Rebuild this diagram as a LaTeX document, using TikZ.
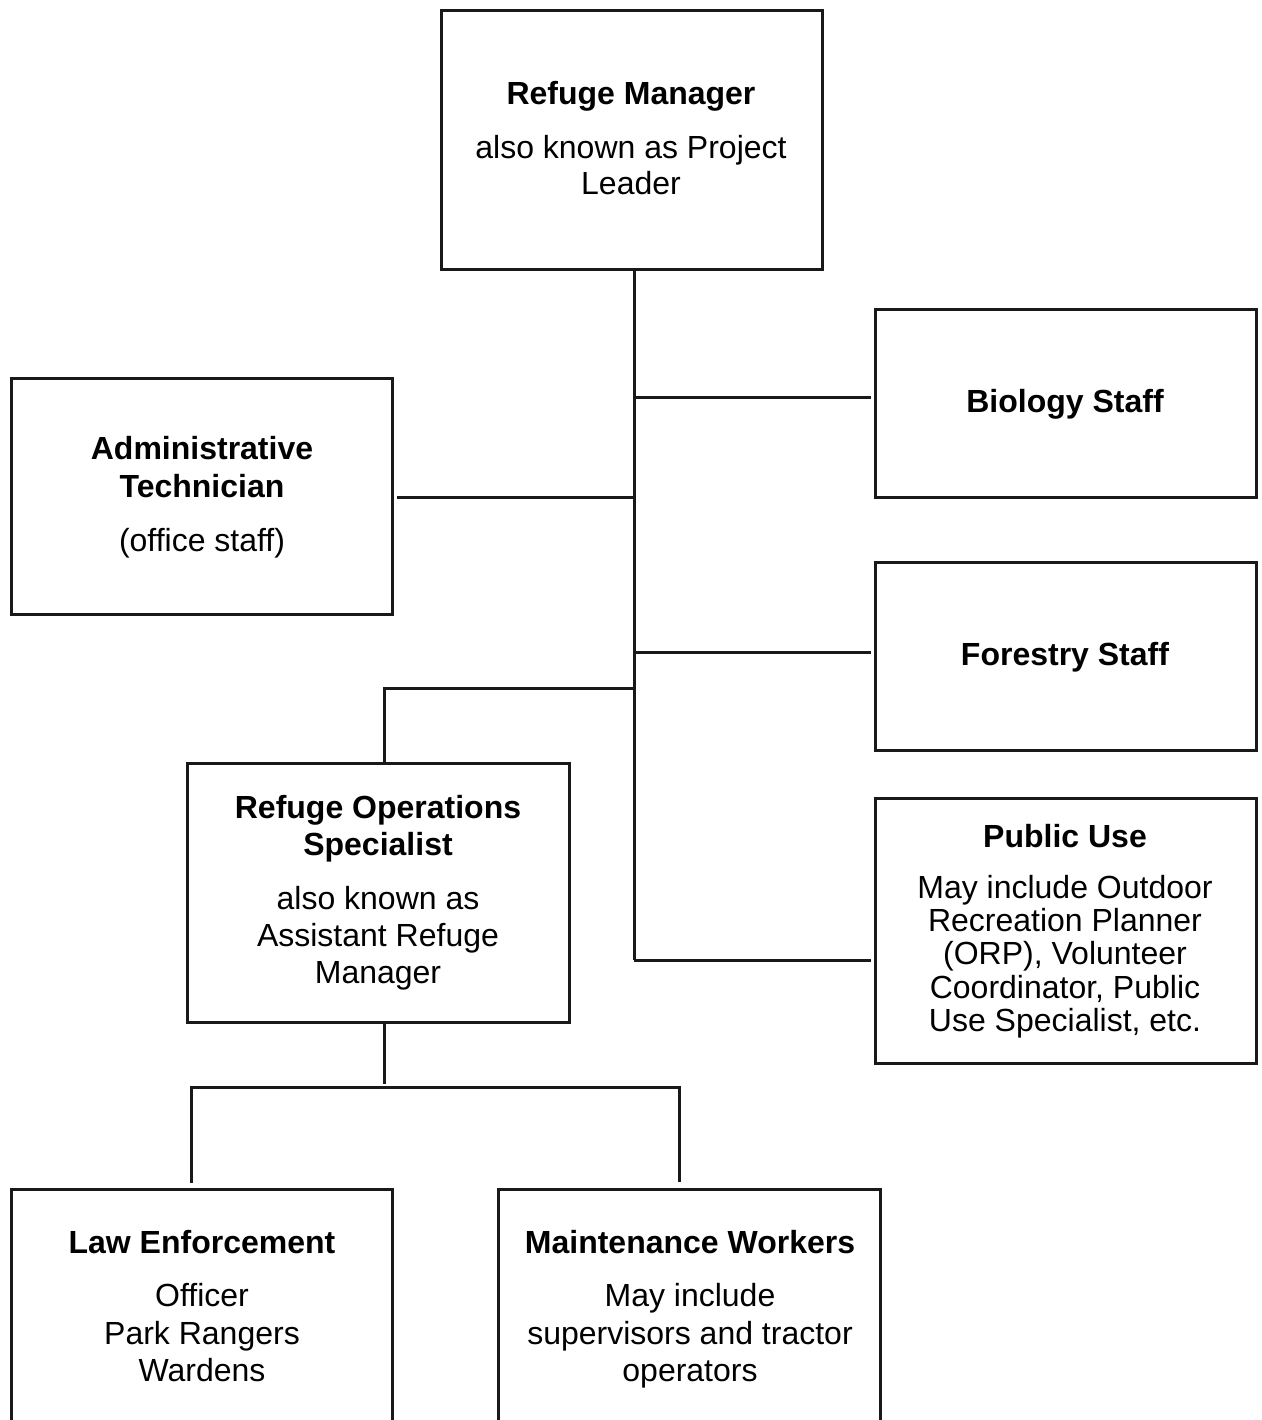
\documentclass[tikz,border=0pt]{standalone}
\usepackage{fontspec}
\setmainfont{Liberation Sans}
\begin{document}
\begin{tikzpicture}[x=1pt,y=-1pt,
  box/.style={draw=black!90, line width=3pt, inner sep=0pt, outer sep=0pt, anchor=north west},
  conn/.style={draw=black!90, line width=3pt},
  tx/.style={font=\fontsize{32}{36}\selectfont, inner sep=0pt, anchor=mid, yshift=-8pt},
  tb/.style={font=\fontsize{32}{36}\selectfont\bfseries, inner sep=0pt, anchor=mid, yshift=-8pt}]
\useasboundingbox (0,0) rectangle (1261,1420);
\clip (0,0) rectangle (1261,1420);
% boxes
\node[box, minimum width=381pt, minimum height=259pt] (rm) at (441,11) {};
\node[box, minimum width=381pt, minimum height=188pt] (bio) at (875,309) {};
\node[box, minimum width=381pt, minimum height=236pt] (adm) at (11,378) {};
\node[box, minimum width=381pt, minimum height=188pt] (for) at (875,562) {};
\node[box, minimum width=382pt, minimum height=259pt] (ops) at (187,763) {};
\node[box, minimum width=381pt, minimum height=265pt] (pub) at (875,798) {};
\node[box, minimum width=381pt, minimum height=300pt] (law) at (11,1189) {};
\node[box, minimum width=382pt, minimum height=300pt] (mnt) at (498,1189) {};
% texts
\node[tb] (rmt1) at (631,94) {Refuge Manager};
\node[tx] (rmt2) at (631,148) {also known as Project};
\node[tx] (rmt3) at (631,184) {Leader};
\node[tb] (biot) at (1065,402) {Biology Staff};
\node[tb] (admt1) at (202,449) {Administrative};
\node[tb] (admt2) at (202,487) {Technician};
\node[tx] (admt3) at (202,541) {(office staff)};
\node[tb] (fort) at (1065,655) {Forestry Staff};
\node[tb] (pubt1) at (1065,837) {Public Use};
\node[tx] (pubt2) at (1065,888) {May include Outdoor};
\node[tx] (pubt3) at (1065,921) {Recreation Planner};
\node[tx] (pubt4) at (1065,954) {(ORP), Volunteer};
\node[tx] (pubt5) at (1065,988) {Coordinator, Public};
\node[tx] (pubt6) at (1065,1021) {Use Specialist, etc.};
\node[tb] (opst1) at (378,808) {Refuge Operations};
\node[tb] (opst2) at (378,845) {Specialist};
\node[tx] (opst3) at (378,899) {also known as};
\node[tx] (opst4) at (378,936) {Assistant Refuge};
\node[tx] (opst5) at (378,973) {Manager};
\node[tb] (lawt1) at (202,1243) {Law Enforcement};
\node[tx] (lawt2) at (202,1296) {Officer};
\node[tx] (lawt3) at (202,1334) {Park Rangers};
\node[tx] (lawt4) at (202,1371) {Wardens};
\node[tb] (mntt1) at (690,1243) {Maintenance Workers};
\node[tx] (mntt2) at (690,1296) {May include};
\node[tx] (mntt3) at (690,1334) {supervisors and tractor};
\node[tx] (mntt4) at (690,1371) {operators};
% connector coordinates
\coordinate (tTop) at (634,270);
\coordinate (tBio) at (634,397);
\coordinate (tAdm) at (634,497);
\coordinate (tFor) at (634,652);
\coordinate (tOps) at (634,688);
\coordinate (tPub) at (634,960);
\coordinate (eBio) at (871,397);
\coordinate (eAdm) at (397,497);
\coordinate (eFor) at (871,652);
\coordinate (ePub) at (871,960);
\coordinate (oCorner) at (384,688);
\coordinate (oTop) at (384,763);
\coordinate (oBot) at (384,1022);
\coordinate (oJoin) at (384,1084);
\coordinate (bL) at (191,1087);
\coordinate (bR) at (679,1087);
\coordinate (bLe) at (191,1183);
\coordinate (bRe) at (679,1182);
% connectors
\draw[conn] (tTop) -- (tPub);
\draw[conn] (tBio) -- (eBio);
\draw[conn] (tAdm) -- (eAdm);
\draw[conn] (tFor) -- (eFor);
\draw[conn] (tPub) -- (ePub);
\draw[conn] (tOps) -- (oCorner) -- (oTop);
\draw[conn] (oBot) -- (oJoin);
\draw[conn] (bLe) -- (bL) -- (bR) -- (bRe);
\end{tikzpicture}
\end{document}
